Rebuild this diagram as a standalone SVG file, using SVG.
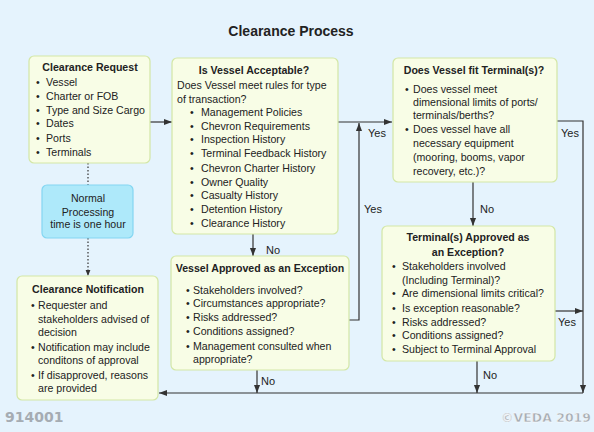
<svg xmlns="http://www.w3.org/2000/svg" width="594" height="432" viewBox="0 0 594 432">
<defs>
<marker id="ah" viewBox="0 0 10 10" refX="10" refY="5" markerWidth="8" markerHeight="8" markerUnits="userSpaceOnUse" orient="auto">
<path d="M0,1.2 L10,5 L0,8.8 Z" fill="#333"/>
</marker>
<marker id="ahs" viewBox="0 0 10 10" refX="10" refY="5" markerWidth="6" markerHeight="6" markerUnits="userSpaceOnUse" orient="auto">
<path d="M0,1 L10,5 L0,9 Z" fill="#333"/>
</marker>
</defs>
<style>
text{font-family:"Liberation Sans",Arial,sans-serif;font-size:10.6px;fill:#222}
.t{font-weight:bold;text-anchor:middle}
.c{text-anchor:middle}
.box{fill:#f8fde6;stroke:#d3e7a6;stroke-width:1.2}
.note{fill:#aee9fa;stroke:#84d6f2;stroke-width:1.2}
.ln{fill:none;stroke:#333;stroke-width:1.2}
.dot{fill:none;stroke:#333;stroke-width:1.2;stroke-dasharray:1.5 2}
.lb{font-size:11px}
.ft{font-family:"DejaVu Sans",Verdana,sans-serif;font-weight:bold;fill:#a5acb3}
</style>
<rect x="0" y="0" width="594" height="432" fill="#e5f3fd"/>
<text x="291" y="36" class="t" style="font-size:14px">Clearance Process</text>

<g id="connectors">
<line class="ln" x1="150" y1="122" x2="172" y2="122" marker-end="url(#ah)"/>
<line class="ln" x1="338" y1="122" x2="392" y2="122" marker-end="url(#ah)"/>
<polyline class="ln" points="349,320 359,320 359,123" marker-end="url(#ah)"/>
<polyline class="ln" points="557,121 583,121 583,393" marker-end="url(#ah)"/>
<line class="ln" x1="555" y1="311" x2="583" y2="311" marker-end="url(#ah)"/>
<line class="ln" x1="253" y1="234" x2="253" y2="256" marker-end="url(#ah)"/>
<line class="ln" x1="473" y1="182" x2="473" y2="226" marker-end="url(#ah)"/>
<line class="ln" x1="257" y1="370" x2="257" y2="393" marker-end="url(#ah)"/>
<line class="ln" x1="477" y1="361" x2="477" y2="393" marker-end="url(#ah)"/>
<line class="ln" x1="583" y1="393" x2="159" y2="393" marker-end="url(#ah)"/>
<line class="dot" x1="88" y1="163" x2="88" y2="185"/>
<line class="dot" x1="88" y1="238" x2="88" y2="276" marker-end="url(#ahs)"/>
<text x="368" y="137" class="lb">Yes</text>
<text x="364" y="213" class="lb">Yes</text>
<text x="561" y="137" class="lb">Yes</text>
<text x="558" y="326" class="lb">Yes</text>
<text x="266" y="254" class="lb">No</text>
<text x="261" y="385" class="lb">No</text>
<text x="480" y="213" class="lb">No</text>
<text x="483" y="379" class="lb">No</text>
</g>

<g id="clearance-request">
<rect class="box" x="29" y="56" width="121" height="107" rx="5"/>
<text x="90" y="71" class="t">Clearance Request</text>
<text x="36" y="86">•</text><text x="46" y="86">Vessel</text>
<text x="36" y="100">•</text><text x="46" y="100">Charter or FOB</text>
<text x="36" y="114">•</text><text x="46" y="114">Type and Size Cargo</text>
<text x="36" y="127">•</text><text x="46" y="127">Dates</text>
<text x="36" y="142">•</text><text x="46" y="142">Ports</text>
<text x="36" y="156">•</text><text x="46" y="156">Terminals</text>
</g>

<g id="is-vessel-acceptable">
<rect class="box" x="172" y="58" width="166" height="176" rx="5"/>
<text x="254" y="74" class="t">Is Vessel Acceptable?</text>
<text x="177" y="89">Does Vessel meet rules for type</text>
<text x="177" y="103">of transaction?</text>
<text x="190" y="116">•</text><text x="201" y="116">Management Policies</text>
<text x="190" y="130">•</text><text x="201" y="130">Chevron Requirements</text>
<text x="190" y="143">•</text><text x="201" y="143">Inspection History</text>
<text x="190" y="157">•</text><text x="201" y="157">Terminal Feedback History</text>
<text x="190" y="172">•</text><text x="201" y="172">Chevron Charter History</text>
<text x="190" y="186">•</text><text x="201" y="186">Owner Quality</text>
<text x="190" y="199">•</text><text x="201" y="199">Casualty History</text>
<text x="190" y="213">•</text><text x="201" y="213">Detention History</text>
<text x="190" y="227">•</text><text x="201" y="227">Clearance History</text>
</g>

<g id="vessel-fit-terminal">
<rect class="box" x="393" y="58" width="164" height="124" rx="5"/>
<text x="474" y="74" class="t">Does Vessel fit Terminal(s)?</text>
<text x="405" y="93">•</text><text x="413" y="93">Does vessel meet</text>
<text x="413" y="106">dimensional limits of ports/</text>
<text x="413" y="119">terminals/berths?</text>
<text x="405" y="133">•</text><text x="413" y="133">Does vessel have all</text>
<text x="413" y="147">necessary equipment</text>
<text x="413" y="161">(mooring, booms, vapor</text>
<text x="413" y="175">recovery, etc.)?</text>
</g>

<g id="normal-processing">
<rect class="note" x="42" y="185" width="91" height="53" rx="5"/>
<text x="88" y="202" class="c">Normal</text>
<text x="88" y="216" class="c">Processing</text>
<text x="88" y="228" class="c">time is one hour</text>
</g>

<g id="vessel-exception">
<rect class="box" x="171" y="256" width="178" height="114" rx="5"/>
<text x="260" y="272" class="t">Vessel Approved as an Exception</text>
<text x="186" y="294">•</text><text x="193" y="294">Stakeholders involved?</text>
<text x="186" y="307">•</text><text x="193" y="307">Circumstances appropriate?</text>
<text x="186" y="321">•</text><text x="193" y="321">Risks addressed?</text>
<text x="186" y="335">•</text><text x="193" y="335">Conditions assigned?</text>
<text x="186" y="350">•</text><text x="193" y="350">Management consulted when</text>
<text x="193" y="363">appropriate?</text>
</g>

<g id="terminal-exception">
<rect class="box" x="382" y="226" width="173" height="135" rx="5"/>
<text x="468" y="241" class="t">Terminal(s) Approved as</text>
<text x="468" y="256" class="t">an Exception?</text>
<text x="392" y="270">•</text><text x="402" y="270">Stakeholders involved</text>
<text x="402" y="284">(Including Terminal)?</text>
<text x="392" y="297">•</text><text x="402" y="297">Are dimensional limits critical?</text>
<text x="392" y="312">•</text><text x="402" y="312">Is exception reasonable?</text>
<text x="392" y="326">•</text><text x="402" y="326">Risks addressed?</text>
<text x="392" y="339">•</text><text x="402" y="339">Conditions assigned?</text>
<text x="392" y="353">•</text><text x="402" y="353">Subject to Terminal Approval</text>
</g>

<g id="clearance-notification">
<rect class="box" x="17" y="276" width="141" height="124" rx="5"/>
<text x="88" y="293" class="t">Clearance Notification</text>
<text x="31" y="309">•</text><text x="38" y="309">Requester and</text>
<text x="38" y="323">stakeholders advised of</text>
<text x="38" y="336">decision</text>
<text x="31" y="351">•</text><text x="38" y="351">Notification may include</text>
<text x="38" y="364">conditons of approval</text>
<text x="31" y="379">•</text><text x="38" y="379">If disapproved, reasons</text>
<text x="38" y="392">are provided</text>
</g>

<text x="5" y="422" class="ft" style="font-size:14px">914001</text>
<text x="591" y="422" class="ft" style="font-size:12.5px;text-anchor:end;stroke:#ffffff;stroke-width:0.4">©VEDA 2019</text>
</svg>
